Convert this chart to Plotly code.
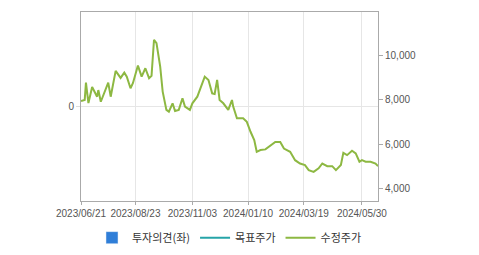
import plotly.graph_objects as go

# trading-day index (from 2023/06/21) and adjusted price
day_idx = [0, 3, 4, 6, 9, 13, 14, 16, 22, 24, 28, 32, 35, 37, 40, 42, 46, 49, 52, 55,
           57, 59, 61, 64, 66, 67, 69, 71, 74, 76, 79, 82, 84, 88, 90, 94, 97, 100, 103, 106,
           108, 110, 112, 115, 119, 122, 123, 126, 131, 134, 137, 140, 142, 145, 149, 153, 157, 161, 164, 169,
           173, 177, 181, 184, 188, 192, 195, 199, 203, 206, 210, 212, 215, 219, 222, 225, 227, 230, 234, 238, 240]
price = [7950, 8000, 8790, 7860, 8590, 8150, 8450, 7920, 8790, 8150, 9320, 9000, 9240, 9060, 8530, 8770, 9560, 9060, 9440, 8990,
         9100, 10730, 10580, 9510, 8380, 8150, 7550, 7470, 7850, 7500, 7550, 8080, 7700, 7550, 7850, 8150, 8600, 9060, 8910, 8300,
         8270, 8910, 8000, 7850, 7550, 8000, 7700, 7170, 7170, 7010, 6560, 6180, 5650, 5730, 5760, 5950, 6100, 6100, 5800, 5650,
         5270, 5120, 5050, 4820, 4740, 4900, 5120, 5000, 5000, 4820, 5050, 5600, 5500, 5700, 5580, 5200, 5270, 5200, 5200, 5120, 5000]

tick_idx = [0, 44, 90, 135, 180, 227]
tick_labels = ["2023/06/21", "2023/08/23", "2023/11/03", "2024/01/10", "2024/03/19", "2024/05/30"]
right_ticks = [4000, 6000, 8000, 10000]
right_labels = ["4,000", "6,000", "8,000", "10,000"]

fig = go.Figure()
fig.add_trace(go.Bar(x=[None], y=[None], name="투자의견(좌)", marker_color="#2f7ed8", yaxis="y"))
fig.add_trace(go.Scatter(x=[None], y=[None], mode="lines", name="목표주가",
                         line=dict(color="#26a4a8", width=2), yaxis="y"))
fig.add_trace(go.Scatter(x=day_idx, y=price, mode="lines", name="수정주가",
                         line=dict(color="#8db842", width=2), yaxis="y2"))

axis_font = dict(family="Liberation Sans, Arial, sans-serif", size=10, color="#555555")
fig.update_layout(
    width=479, height=255,
    margin=dict(l=81, r=101, t=12, b=54),
    plot_bgcolor="white", paper_bgcolor="white",
    showlegend=True,
    legend=dict(orientation="h", x=0.5, xanchor="center",
                yref="container", y=0.125, yanchor="top",
                font=dict(family="Noto Sans CJK KR, sans-serif", size=11, color="#333333"),
                itemwidth=30, tracegroupgap=0),
    xaxis=dict(range=[0, 240], tickmode="array", tickvals=tick_idx, ticktext=tick_labels,
               tickangle=0, automargin=False,
               showgrid=True, gridcolor="#e6e6e6", gridwidth=1,
               showline=True, linecolor="#aaaaaa", linewidth=1, mirror=True,
               ticks="outside", ticklen=3, tickcolor="#aaaaaa", tickfont=axis_font,
               zeroline=False),
    yaxis=dict(range=[-1, 1], tickmode="array", tickvals=[0], ticktext=["0"],
               showgrid=True, gridcolor="#e6e6e6", automargin=False,
               showline=True, linecolor="#aaaaaa", linewidth=1, mirror=True,
               ticks="outside", ticklen=4, tickcolor="#dddddd", tickfont=axis_font,
               zeroline=False),
    yaxis2=dict(range=[3420, 11990], overlaying="y", side="right", automargin=False,
                tickmode="array", tickvals=right_ticks, ticktext=right_labels,
                showgrid=False, showline=False, zeroline=False,
                ticks="outside", ticklen=4, tickcolor="#aaaaaa", tickfont=axis_font),
)

fig.write_html("out.html")
